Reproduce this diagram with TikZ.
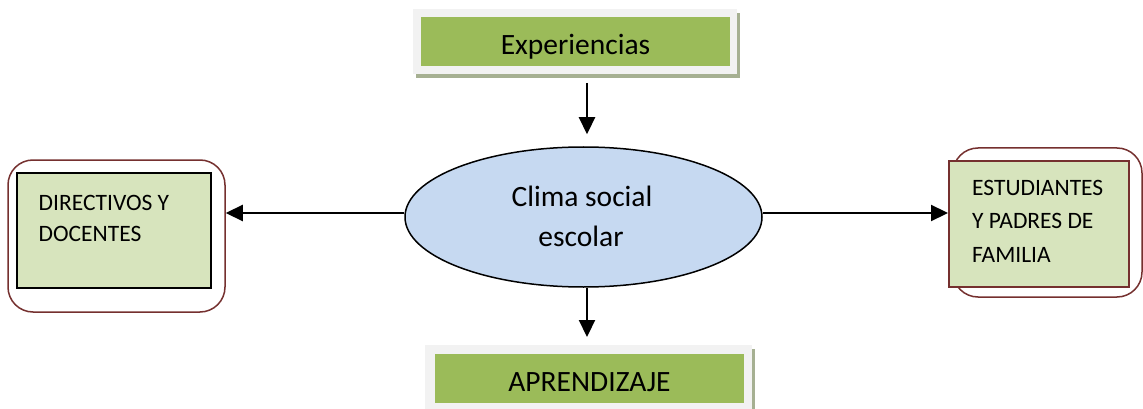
\documentclass[tikz,border=0pt]{standalone}
\usepackage{fontspec}
\setmainfont{Carlito}
\usetikzlibrary{shapes.geometric,shadows,arrows.meta}
\definecolor{gbar}{HTML}{9BBB59}
\definecolor{panelc}{HTML}{F2F2F2}
\definecolor{shadowc}{HTML}{A6B092}
\definecolor{lgreen}{HTML}{D7E4BD}
\definecolor{lblue}{HTML}{C6D9F1}
\definecolor{dred}{HTML}{75302F}
\tikzset{
  panel/.style={rectangle, fill=panelc, inner sep=0pt,
    drop shadow={shadow xshift=3pt, shadow yshift=-4pt, fill=shadowc, opacity=1}},
  bar/.style={rectangle, fill=gbar, inner xsep=0pt, inner ysep=0pt,
    font=\fontsize{29.5}{36}\selectfont, text height=38pt, text depth=11pt},
  outerbox/.style={rectangle, rounded corners=25pt, draw=dred, line width=1.5pt, inner sep=0pt},
  innerbox/.style={rectangle, fill=lgreen, line width=1.6pt, inner sep=0pt},
  small/.style={anchor=base west, inner sep=0pt, font=\fontsize{23.5}{30}\selectfont},
  big/.style={anchor=base, inner sep=0pt, font=\fontsize{29.5}{36}\selectfont},
  arr/.style={line width=2.2pt, -{Triangle[length=17pt,width=16pt]}}
}
\begin{document}
\begin{tikzpicture}[x=1pt,y=-1pt]
\clip (0,0) rectangle (1143,409);
\fill[white] (0,0) rectangle (1143,409);
% top
\node[panel, minimum width=324pt, minimum height=65pt] (exppanel) at (575,41.5) {};
\node[bar, minimum width=309pt] (exp) at (575.5,41.5) {Experiencias};
% bottom
\node[panel, minimum width=327pt, minimum height=70pt,
  drop shadow={shadow xshift=3pt, shadow yshift=-6pt, fill=shadowc, opacity=1}] (aprpanel) at (588.5,380) {};
\node[bar, minimum width=309pt] (apr) at (589.5,378) {APRENDIZAJE};
% ellipse
\node[ellipse, draw=black, line width=1.5pt, fill=lblue, minimum width=357pt, minimum height=140pt, inner sep=0pt] (clima) at (583.5,217) {};
\node[big] (cl1) at (582,206.7) {Clima social};
\node[big] (cl2) at (581,246.7) {escolar};
% left
\node[outerbox, minimum width=217pt, minimum height=152pt] (leftouter) at (116.5,236) {};
\node[innerbox, draw=black, minimum width=194pt, minimum height=115pt] (dir) at (114,230.5) {};
\node[small] (d1) at (38.5,210) {DIRECTIVOS Y};
\node[small] (d2) at (38.5,241.7) {DOCENTES};
% right
\node[outerbox, minimum width=189pt, minimum height=149pt] (rightouter) at (1047.5,222.5) {};
\node[innerbox, draw=dred, line width=2pt, minimum width=180pt, minimum height=126pt] (est) at (1039,224) {};
\node[small] (e1) at (972,195) {ESTUDIANTES};
\node[small] (e2) at (972,228.5) {Y PADRES DE};
\node[small] (e3) at (972,262) {FAMILIA};
% connectors
\coordinate (topstart) at (587,83);
\coordinate (botend) at (587,337);
\draw[arr, shorten >=12pt] (topstart) -- (topstart |- clima.north);
\draw[arr] (botend |- clima.south) -- (botend);
\draw[arr] ([yshift=4pt]clima.west) -- ([yshift=4pt]clima.west -| leftouter.east);
\draw[arr] ([yshift=4pt]clima.east) -- ([yshift=4pt]clima.east -| est.west);
\end{tikzpicture}
\end{document}
